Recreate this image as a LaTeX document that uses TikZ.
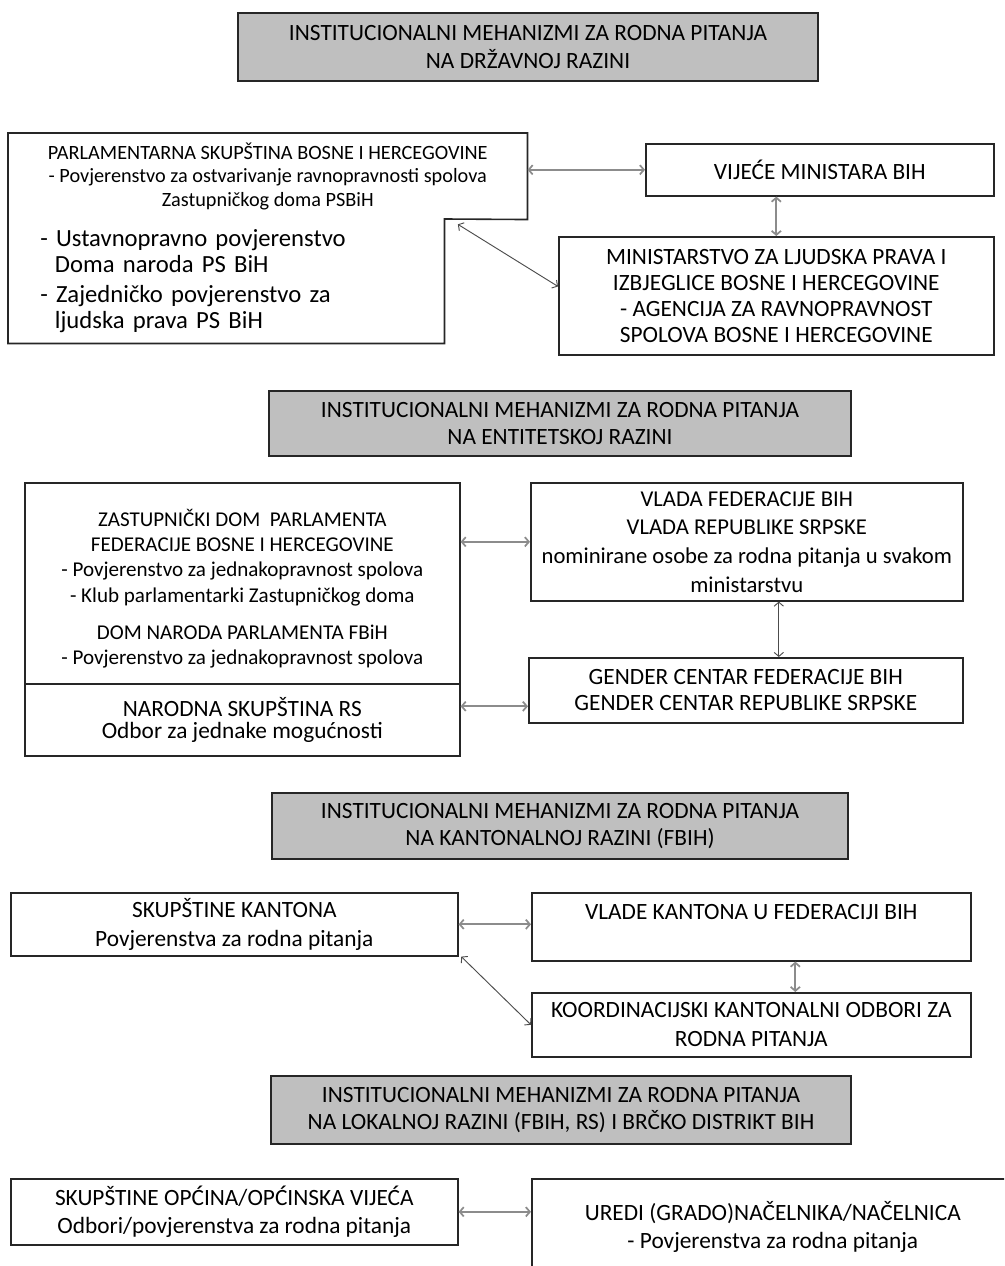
\documentclass[tikz,border=0pt]{standalone}
\usepackage{fontspec}
\setmainfont{Carlito}
\usetikzlibrary{arrows.meta}
\begin{document}
\begin{tikzpicture}[x=0.75pt,y=-0.75pt,
		every node/.style = {shape=rectangle, align=center, inner sep=2pt},
		naslov/.style = {draw=black!85, line width=1.5pt, fill=black!25,
			font=\fontsize{17.5}{20.5}\selectfont},
		okvir/.style = {draw=black!85, line width=1.2pt,
			font=\fontsize{17.5}{19.5}\selectfont},
		sitno/.style = {font=\fontsize{15.2}{17.5}\selectfont},
		veza/.style = {{Straight Barb[length=3pt,width=7pt]}-{Straight Barb[length=3pt,width=7pt]},
			draw=black!45, line width=1.3pt},
		tanka/.style = {veza, draw=black!70, line width=0.7pt}]
	\useasboundingbox (0,0) rectangle (1004,1266);
	\clip (0,0) rectangle (1004,1266);
	% drzavna razina
	\node[naslov, anchor=north west, minimum width=435pt, minimum height=51pt] (n1) at (237,12)
		{INSTITUCIONALNI MEHANIZMI ZA RODNA PITANJA\\NA DRŽAVNOJ RAZINI};
	\node[sitno, anchor=north west, minimum width=389.25pt, minimum height=64.5pt] (psbih) at (8,133)
		{PARLAMENTARNA SKUPŠTINA BOSNE I HERCEGOVINE\\
		- Povjerenstvo za ostvarivanje ravnopravnosti spolova\\
		Zastupničkog doma PSBiH};
	\node[anchor=north west, minimum height=93pt, inner xsep=24pt, text width=279pt, align=left,
		font=\fontsize{18.5}{19.5}\selectfont] (pskom) at (8,219)
		{- Ustavnopravno povjerenstvo\\
		\hspace*{11pt}Doma naroda PS BiH\\[3pt]
		- Zajedničko povjerenstvo za\\
		\hspace*{11pt}ljudska prava PS BiH};
	\draw[black!85, line width=1.2pt] (psbih.north west) -- (psbih.north east) -- (psbih.south east)
		-- (pskom.north east) -- (pskom.south east) -- (pskom.south west) -- cycle;
	\node[okvir, anchor=north west, minimum width=261pt, minimum height=39pt] (vijece) at (645,143)
		{VIJEĆE MINISTARA BIH};
	\node[okvir, anchor=north west, minimum width=326.25pt, minimum height=88.5pt] (minist) at (558,236)
		{MINISTARSTVO ZA LJUDSKA PRAVA I\\IZBJEGLICE BOSNE I HERCEGOVINE\\
		- AGENCIJA ZA RAVNOPRAVNOST\\SPOLOVA BOSNE I HERCEGOVINE};
	\draw[veza] (vijece.west -| psbih.east) -- (vijece.west);
	\draw[veza] (minist.north) -- (minist.north |- vijece.south);
	\draw[tanka] ([xshift=10pt,yshift=-4pt]pskom.north east) -- ([yshift=7pt]minist.west);
	% entitetska razina
	\node[naslov, anchor=north west, minimum width=436.5pt, minimum height=48.75pt] (n2) at (268,390)
		{INSTITUCIONALNI MEHANIZMI ZA RODNA PITANJA\\NA ENTITETSKOJ RAZINI};
	\node[okvir, font=\fontsize{15.8}{19}\selectfont, anchor=north west,
		minimum width=326.25pt, minimum height=150.75pt] (fbih) at (24,482)
		{\rule{0pt}{21pt}ZASTUPNIČKI DOM \ PARLAMENTA\\FEDERACIJE BOSNE I HERCEGOVINE\\
		- Povjerenstvo za jednakopravnost spolova\\
		- Klub parlamentarki Zastupničkog doma\\[9pt]
		DOM NARODA PARLAMENTA FBiH\\
		- Povjerenstvo za jednakopravnost spolova};
	\node[okvir, anchor=north west, minimum width=326.25pt, minimum height=54pt,
		font=\fontsize{17.5}{16}\selectfont] (rs) at (24,683)
		{NARODNA SKUPŠTINA RS\\Odbor za jednake mogućnosti};
	\node[okvir, font=\fontsize{17}{21.5}\selectfont, anchor=north west,
		minimum width=324pt, minimum height=88.5pt] (vlada) at (530,482)
		{VLADA FEDERACIJE BIH\\VLADA REPUBLIKE SRPSKE\\
		nominirane osobe za rodna pitanja u svakom\\ministarstvu};
	\node[okvir, anchor=north west, minimum width=325.5pt, minimum height=48.75pt] (gender) at (528,657)
		{GENDER CENTAR FEDERACIJE BIH\\GENDER CENTAR REPUBLIKE SRPSKE};
	\draw[veza] (vlada.west -| fbih.east) -- (vlada.west);
	\draw[veza] ([yshift=-12pt]gender.west -| rs.east) -- ([yshift=-12pt]gender.west);
	\draw[tanka] ([xshift=24pt]vlada.south) -- ([xshift=24pt]vlada.south |- gender.north);
	% kantonalna razina
	\node[naslov, anchor=north west, minimum width=432pt, minimum height=49.5pt] (n3) at (271,792)
		{INSTITUCIONALNI MEHANIZMI ZA RODNA PITANJA\\NA KANTONALNOJ RAZINI (FBIH)};
	\node[okvir, anchor=north west, minimum width=335.25pt, minimum height=47.25pt,
		font=\fontsize{17.5}{21.5}\selectfont] (skupk) at (10,892)
		{SKUPŠTINE KANTONA\\Povjerenstva za rodna pitanja};
	\node[okvir, anchor=north west, minimum width=329.25pt, minimum height=51pt] (vladek) at (531,892)
		{VLADE KANTONA U FEDERACIJI BIH\\[2.5pt]\mbox{}};
	\node[okvir, anchor=north west, minimum width=329.25pt, minimum height=48pt,
		font=\fontsize{17.5}{22}\selectfont] (koord) at (531,992)
		{KOORDINACIJSKI KANTONALNI ODBORI ZA\\RODNA PITANJA};
	\draw[veza] (skupk.east) -- (skupk.east -| vladek.west);
	\draw[veza] ([xshift=33pt]vladek.south) -- ([xshift=33pt]vladek.south |- koord.north);
	\draw[tanka] ([xshift=2pt]skupk.south east) -- (koord.west);
	% lokalna razina
	\node[naslov, anchor=north west, minimum width=435pt, minimum height=51pt] (n4) at (270,1075)
		{INSTITUCIONALNI MEHANIZMI ZA RODNA PITANJA\\NA LOKALNOJ RAZINI (FBIH, RS) I BRČKO DISTRIKT BIH};
	\node[okvir, anchor=north west, minimum width=335.25pt, minimum height=49.5pt,
		font=\fontsize{17.5}{21.5}\selectfont] (opcine) at (10,1178)
		{SKUPŠTINE OPĆINA/OPĆINSKA VIJEĆA\\Odbori/povjerenstva za rodna pitanja};
	\node[okvir, anchor=north west, minimum width=361.5pt, minimum height=72pt,
		font=\fontsize{17.5}{21}\selectfont] (uredi) at (531,1178)
		{UREDI (GRADO)NAČELNIKA/NAČELNICA\\- Povjerenstva za rodna pitanja};
	\draw[veza] (opcine.east) -- (opcine.east -| uredi.west);
\end{tikzpicture}
\end{document}
